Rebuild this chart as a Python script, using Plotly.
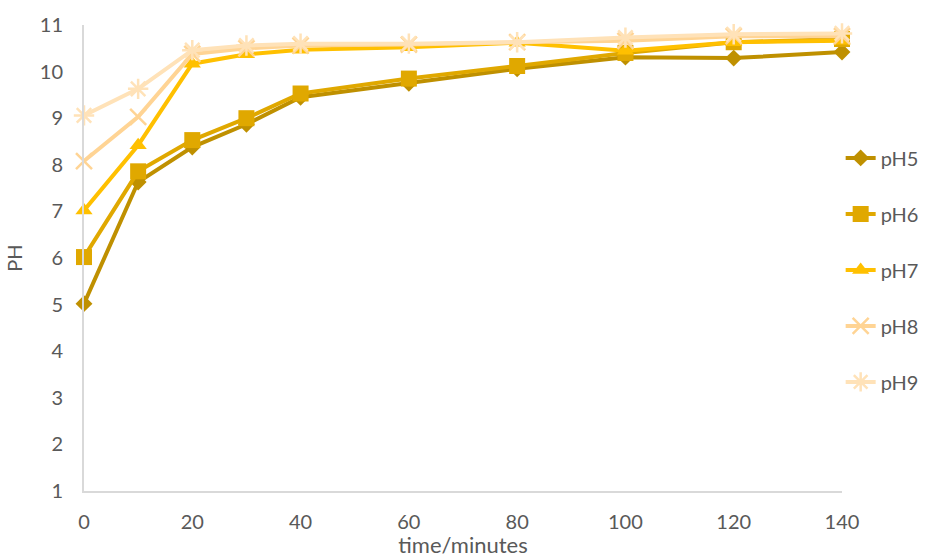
import plotly.graph_objects as go

# Sampling times (minutes)
time_min = [0, 10, 20, 30, 40, 60, 80, 100, 120, 140]

# Measured pH for each starting pH
ph5 = [5.02, 7.63, 8.38, 8.87, 9.45, 9.75, 10.06, 10.31, 10.29, 10.42]
ph6 = [6.02, 7.86, 8.53, 9.00, 9.53, 9.85, 10.12, 10.40, 10.63, 10.70]
ph7 = [7.02, 8.42, 10.17, 10.37, 10.47, 10.52, 10.62, 10.45, 10.63, 10.66]
ph8 = [8.08, 9.03, 10.38, 10.50, 10.56, 10.58, 10.63, 10.66, 10.76, 10.76]
ph9 = [9.06, 9.63, 10.46, 10.56, 10.60, 10.60, 10.63, 10.73, 10.80, 10.82]

series_names = ["pH5", "pH6", "pH7", "pH8", "pH9"]
colors = ["#BF9000", "#E0A800", "#FFC000", "#FFD494", "#FFE2B8"]
symbols = ["diamond", "square", "triangle-up", "x-thin-open", "asterisk-open"]
sizes = [13, 16, 15, 16, 17]

y_ticks = list(range(1, 12))
x_ticks = [0, 20, 40, 60, 80, 100, 120, 140]

FONT = "Lato, 'Open Sans', sans-serif"
TEXT = "#595959"
AXIS = "#D9D9D9"

fig = go.Figure()
for i, (name, vals) in enumerate(zip(series_names, [ph5, ph6, ph7, ph8, ph9])):
    open_sym = symbols[i].endswith("open")
    fig.add_trace(go.Scatter(
        x=time_min, y=vals, name=name, mode="lines+markers",
        legendgroup=name, cliponaxis=False,
        line=dict(color=colors[i], width=4),
        marker=dict(symbol=symbols[i], size=sizes[i], color=colors[i],
                    line=dict(color=colors[i], width=2.5 if open_sym else 0)),
    ))

fig.update_layout(
    width=932, height=558,
    margin=dict(l=84, r=90, t=25, b=67, autoexpand=False),
    paper_bgcolor="white", plot_bgcolor="white",
    font=dict(family=FONT, size=20, color=TEXT),
    showlegend=True,
    legend=dict(xref="container", yref="container",
                x=0.902, xanchor="left", y=0.752, yanchor="top",
                traceorder="grouped", tracegroupgap=27,
                font=dict(family=FONT, size=20, color=TEXT),
                bgcolor="rgba(0,0,0,0)"),
    xaxis=dict(range=[0, 140], tickvals=x_ticks, showgrid=False, zeroline=False,
               showline=True, linecolor=AXIS, linewidth=2, automargin=False,
               ticks="", ticklabelstandoff=12,
               tickfont=dict(family=FONT, size=20, color=TEXT),
               title=dict(text="time/minutes", standoff=2,
                          font=dict(family=FONT, size=22, color=TEXT))),
    yaxis=dict(range=[1, 11], tickvals=y_ticks, showgrid=False, zeroline=False,
               showline=True, linecolor=AXIS, linewidth=2, automargin=False,
               ticks="", ticklabelstandoff=15,
               tickfont=dict(family=FONT, size=20, color=TEXT),
               title=dict(text="PH", standoff=12,
                          font=dict(family=FONT, size=20, color=TEXT))),
)

fig.write_html("out.html")
